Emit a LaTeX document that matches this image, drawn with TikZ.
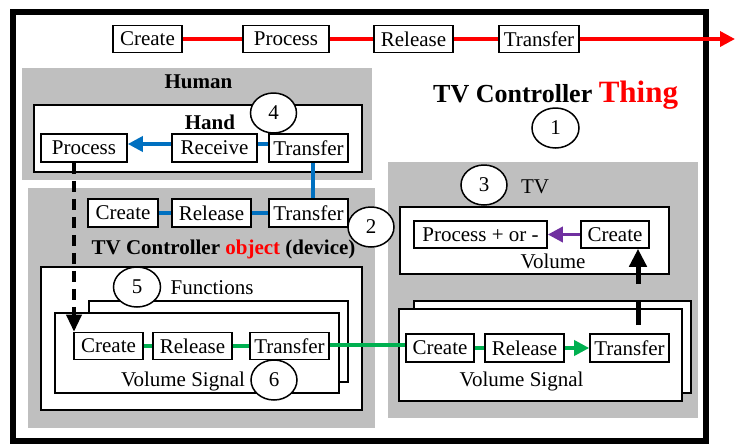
\documentclass[tikz,border=0pt]{standalone}
\usepackage{fontspec}
\setmainfont{Liberation Serif}
\usetikzlibrary{arrows.meta,shapes.geometric}
\definecolor{grayarea}{RGB}{191,191,191}
\definecolor{myblue}{RGB}{0,112,192}
\definecolor{mygreen}{RGB}{0,176,80}
\definecolor{mypurple}{RGB}{112,48,160}
\begin{document}
\begin{tikzpicture}[x=1pt,y=-1pt,
  box/.style={draw,line width=1.6pt,fill=white,inner sep=0pt,minimum height=27pt,font=\fontsize{21}{25}\selectfont},
  panel/.style={draw,line width=1.6pt,fill=white},
  area/.style={fill=grayarea},
  num/.style={draw,ellipse,fill=white,line width=1.5pt,inner sep=0pt,minimum width=46pt,minimum height=40pt,font=\fontsize{21}{25}\selectfont},
  lbl/.style={anchor=base,inner sep=0pt,font=\fontsize{21}{25}\selectfont},
  ttl/.style={anchor=base,inner sep=0pt,font=\fontsize{21}{25}\selectfont\bfseries},
  redline/.style={red,line width=3.5pt},
  blueline/.style={myblue,line width=3.5pt},
  greenline/.style={mygreen,line width=3.5pt},
  tip/.style={-{Triangle[length=15pt,width=15pt]}},
]
\useasboundingbox (0,0) rectangle (737,445);
% outer frame
\draw[line width=6.5pt] (13,12) rectangle (706,441);
% top chain
\node[box,minimum width=69pt] (tc) at (147.5,39) {Create};
\node[box,minimum width=86pt] (tp) at (286,39) {Process};
\node[box,minimum width=79pt] (tr) at (413.5,39) {Release};
\node[box,minimum width=80pt] (tt) at (539,39) {Transfer};
\coordinate (tend) at (735,39);
\draw[redline] (tc) -- (tp);
\draw[redline] (tp) -- (tr);
\draw[redline] (tr) -- (tt);
\draw[redline,tip] (tt) -- (tend);
% title
\node[anchor=base west,inner sep=0pt] (thing) at (433,102)
  {\fontsize{26}{30}\selectfont\bfseries TV Controller \fontsize{31}{34}\selectfont\color{red}Thing};
% gray areas
\fill[area] (22,68) rectangle (372,180);
\fill[area] (28,188) rectangle (375,428);
\fill[area] (388,162) rectangle (698,418);
% Human
\node[ttl] (human) at (198.5,88) {Human};
\draw[panel] (34,105) rectangle (362,172);
\node[ttl] (hand) at (210,129) {Hand};
\node[box,minimum width=86pt,minimum height=28pt] (hp) at (84,148) {Process};
\node[box,minimum width=85pt,minimum height=28pt] (hr) at (214.5,148) {Receive};
\node[box,minimum width=79pt,minimum height=28pt] (ht) at (308.5,148) {Transfer};
% Device
\node[box,minimum width=70pt,minimum height=28pt] (dc) at (123,213) {Create};
\node[box,minimum width=79pt,minimum height=28pt] (dr) at (211.5,213) {Release};
\node[box,minimum width=79pt,minimum height=28pt] (dt) at (308.5,213) {Transfer};
\node[anchor=base,inner sep=0pt,font=\fontsize{21}{25}\selectfont\bfseries] (dev) at (223.5,254)
  {TV Controller \textcolor{red}{object} (device)};
\draw[panel] (41,267) rectangle (362,410);
\node[lbl] (funcs) at (212,294) {Functions};
\draw[panel] (89,301) rectangle (348,382);
\draw[panel] (55,313) rectangle (339,393);
\node[box,minimum width=69pt] (fc) at (108.5,346) {Create};
\node[box,minimum width=79pt] (fr) at (192.5,346) {Release};
\node[box,minimum width=79pt] (ft) at (289.5,346) {Transfer};
\node[lbl] (fvs) at (183,386) {Volume Signal};
% TV
\node[lbl] (tvl) at (535,193) {TV};
\draw[panel] (400,207) rectangle (669,274);
\node[box,minimum width=133pt] (vp) at (480.5,234.5) {Process + or -};
\node[box,minimum width=68pt] (vc) at (615,234.5) {Create};
\node[lbl] (voll) at (553,268) {Volume};
\draw[panel] (414,301) rectangle (691,393);
\draw[panel] (399,309) rectangle (682,401);
\node[box,minimum width=68pt,minimum height=28pt] (sc) at (440,348) {Create};
\node[box,minimum width=79pt,minimum height=28pt] (sr) at (524.5,348) {Release};
\node[box,minimum width=79pt,minimum height=28pt] (st) at (629.5,348) {Transfer};
\node[lbl] (svs) at (521.5,386) {Volume Signal};
% connectors
\draw[blueline,tip] ([yshift=4pt]hr.west) -- ([yshift=4pt]hp.east);
\draw[blueline] ([yshift=4pt]ht.west) -- ([yshift=4pt]hr.east);
\draw[blueline] ([xshift=4.5pt]ht.south) -- ([xshift=4.5pt]ht.south |- dt.north);
\draw[blueline] (dc) -- (dr);
\draw[blueline] (dr) -- (dt);
\draw[greenline] (fc) -- (fr);
\draw[greenline] (fr) -- (ft);
\draw[greenline] ([yshift=1pt]ft.east) -- ([yshift=1pt]ft.east -| sc.west);
\draw[greenline] (sc) -- (sr);
\draw[greenline,tip] (sr) -- (st);
\draw[mypurple,line width=3.5pt,tip] (vc) -- (vp);
\draw[line width=3.5pt,dash pattern=on 11pt off 7pt,-{Triangle[length=17pt,width=15pt]}]
  ([xshift=-10pt]hp.south) -- ([xshift=-10pt]hp.south |- fc.north);
\draw[line width=5pt,dash pattern=on 0pt off 8pt on 23pt off 18pt on 200pt,-{Triangle[length=18pt,width=17pt]}]
  ([xshift=8.5pt]st.north) -- ([xshift=8.5pt]st.north |- vc.south);
% numbered circles
\node[num,minimum width=47pt] (n1) at (555.5,128) {1};
\node[num] (n2) at (371,227) {2};
\node[num] (n3) at (484,185) {3};
\node[num] (n4) at (273.5,113) {4};
\node[num,minimum width=47pt] (n5) at (137,287) {5};
\node[num] (n6) at (274,380) {6};
\end{tikzpicture}
\end{document}
